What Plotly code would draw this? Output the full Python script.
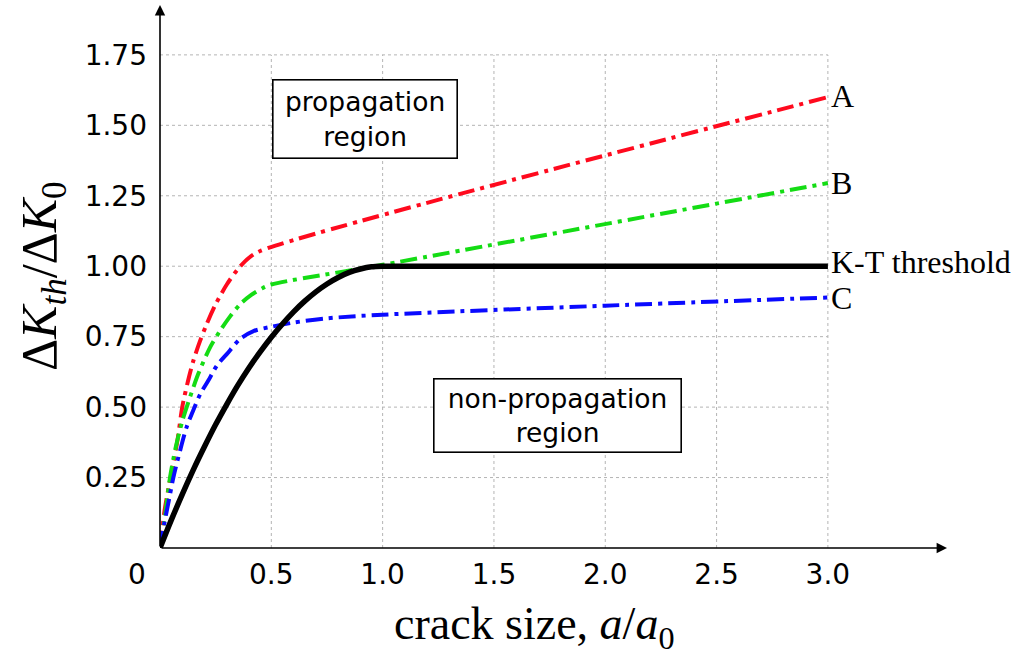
import plotly.graph_objects as go

# ---------------- data ----------------
x_ticks = [0.5, 1.0, 1.5, 2.0, 2.5, 3.0]
x_tick_labels = ["0.5", "1.0", "1.5", "2.0", "2.5", "3.0"]
y_ticks = [0.25, 0.50, 0.75, 1.00, 1.25, 1.50, 1.75]
y_tick_labels = ["0.25", "0.50", "0.75", "1.00", "1.25", "1.50", "1.75"]

# curve A (red)
xA = [0, 0.02, 0.04, 0.06, 0.08, 0.10, 0.125, 0.15, 0.18, 0.21, 0.25, 0.30, 0.35, 0.40, 0.45, 3.0]
yA = [0, 0.13, 0.22, 0.30, 0.39, 0.50, 0.59, 0.665, 0.735, 0.795, 0.865, 0.935, 0.99, 1.03, 1.054, 1.60]
# curve B (green)
xB = [0, 0.02, 0.045, 0.07, 0.10, 0.127, 0.172, 0.225, 0.27, 0.315, 0.36, 0.41, 0.46, 0.5, 1.0, 3.0]
yB = [0, 0.10, 0.25, 0.355, 0.45, 0.517, 0.618, 0.712, 0.771, 0.822, 0.865, 0.898, 0.922, 0.935, 1.005, 1.295]
# curve C (blue)
xC = [0, 0.02, 0.04, 0.06, 0.09, 0.12, 0.15, 0.18, 0.217, 0.255, 0.30, 0.36, 0.42, 0.5, 0.6, 0.75, 1.0, 2.0, 3.0]
yC = [0, 0.09, 0.17, 0.25, 0.345, 0.43, 0.49, 0.545, 0.594, 0.647, 0.688, 0.742, 0.77, 0.785, 0.80, 0.815, 0.828, 0.86, 0.889]
# K-T threshold (black)
xKT = [0, 0.05, 0.1, 0.15, 0.2, 0.25, 0.3, 0.35, 0.4, 0.45, 0.5, 0.55, 0.6, 0.65, 0.7, 0.75, 0.8, 0.85, 0.9, 0.95, 1.0, 3.0]
yKT = [0, 0.098, 0.19, 0.278, 0.36, 0.438, 0.51, 0.578, 0.64, 0.696, 0.748, 0.795, 0.838, 0.876, 0.909, 0.937, 0.96, 0.978, 0.99, 0.998, 1.0, 1.0]

curve_names = ["A", "B", "K-T threshold", "C"]

region_labels = ["propagation<br>region", "non-propagation<br>region"]
region_x = [0.919, 1.784]
region_y = [1.524, 0.472]

x_max = 3.535
y_max = 1.927

# ---------------- figure ----------------
SANS = "DejaVu Sans"
SERIF = "Liberation Serif"
DASH = "17px,6px,4px,6px"

fig = go.Figure()
fig.add_trace(go.Scatter(x=xA, y=yA, mode="lines", line=dict(color="#ff0a1e", width=4, dash=DASH, shape="spline", smoothing=0.8), showlegend=False))
fig.add_trace(go.Scatter(x=xB, y=yB, mode="lines", line=dict(color="#14dc14", width=4, dash=DASH, shape="spline", smoothing=0.8), showlegend=False))
fig.add_trace(go.Scatter(x=xC, y=yC, mode="lines", line=dict(color="#0a0aff", width=4, dash=DASH, shape="spline", smoothing=0.8), showlegend=False))
fig.add_trace(go.Scatter(x=xKT, y=yKT, mode="lines", line=dict(color="black", width=5.5, shape="spline", smoothing=0.8), showlegend=False))

shapes = []
for xv in x_ticks:
    shapes.append(dict(type="line", x0=xv, x1=xv, y0=0, y1=max(y_ticks), xref="x", yref="y",
                       line=dict(color="#b4b4b4", width=1, dash="3px,3px"), layer="below"))
for yv in y_ticks:
    shapes.append(dict(type="line", x0=0, x1=max(x_ticks), y0=yv, y1=yv, xref="x", yref="y",
                       line=dict(color="#b4b4b4", width=1, dash="3px,3px"), layer="below"))

annotations = []
# axes with arrows
annotations.append(dict(x=x_max, y=0, ax=0, ay=0, axref="x", ayref="y", xref="x", yref="y",
                        text="", showarrow=True, arrowhead=2, arrowsize=1.3, arrowwidth=1.6, arrowcolor="black"))
annotations.append(dict(x=0, y=y_max, ax=0, ay=0, axref="x", ayref="y", xref="x", yref="y",
                        text="", showarrow=True, arrowhead=2, arrowsize=1.3, arrowwidth=1.6, arrowcolor="black"))
# origin label
annotations.append(dict(x=0, y=0, xref="x", yref="y", text="0", showarrow=False,
                        xanchor="center", yanchor="middle", xshift=-23, yshift=-26,
                        font=dict(family=SANS, size=28, color="black")))
# curve labels
ends = [yA[-1], yB[-1], yKT[-1], yC[-1]]
ends_x = [xA[-1], xB[-1], xKT[-1], xC[-1]]
label_dy = [1, 0, 4, -1]
for name, ex, ey, dy in zip(curve_names, ends_x, ends, label_dy):
    annotations.append(dict(x=ex, y=ey, xref="x", yref="y", text=name, showarrow=False,
                            xanchor="left", yanchor="middle", xshift=1, yshift=dy,
                            font=dict(family=SERIF, size=32, color="black")))
# region boxes
box_w = [183, 246]
box_h = [77, 72]
for lbl, rx, ry, bw, bh in zip(region_labels, region_x, region_y, box_w, box_h):
    annotations.append(dict(x=rx, y=ry, xref="x", yref="y", text=lbl, showarrow=False,
                            xanchor="center", yanchor="middle", width=bw, height=bh,
                            bgcolor="white", bordercolor="black", borderwidth=1.6, borderpad=0,
                            font=dict(family=SANS, size=26.5, color="black")))
# axis titles
annotations.append(dict(x=1.68, y=0, xref="x", yref="y", text="crack size, <i>a</i>/<i>a</i><sub>0</sub>",
                        showarrow=False, xanchor="center", yanchor="middle", yshift=-79,
                        font=dict(family=SERIF, size=46, color="black")))
annotations.append(dict(x=0, y=0.965, xref="x", yref="y",
                        text="Δ<i>K</i><sub><i>th</i></sub>/Δ<i>K</i><sub>0</sub>",
                        showarrow=False, xanchor="center", yanchor="middle", xshift=-117, textangle=-90,
                        font=dict(family=SERIF, size=50, color="black")))

fig.update_layout(
    width=1033, height=657,
    margin=dict(l=160, r=86, t=5, b=109),
    paper_bgcolor="white", plot_bgcolor="white",
    shapes=shapes, annotations=annotations,
    xaxis=dict(range=[0, x_max], showgrid=False, zeroline=False, showline=False,
               tickvals=x_ticks, ticktext=x_tick_labels, ticks="", ticklabelstandoff=7,
               tickfont=dict(family=SANS, size=28, color="black"), fixedrange=True),
    yaxis=dict(range=[0, y_max], showgrid=False, zeroline=False, showline=False,
               tickvals=y_ticks, ticktext=y_tick_labels, ticks="", ticklabelstandoff=12,
               tickfont=dict(family=SANS, size=28, color="black"), fixedrange=True),
)

fig.write_html("out.html", config={"displayModeBar": False},
               post_script="document.body.style.margin='0';document.body.style.overflow='hidden';")
